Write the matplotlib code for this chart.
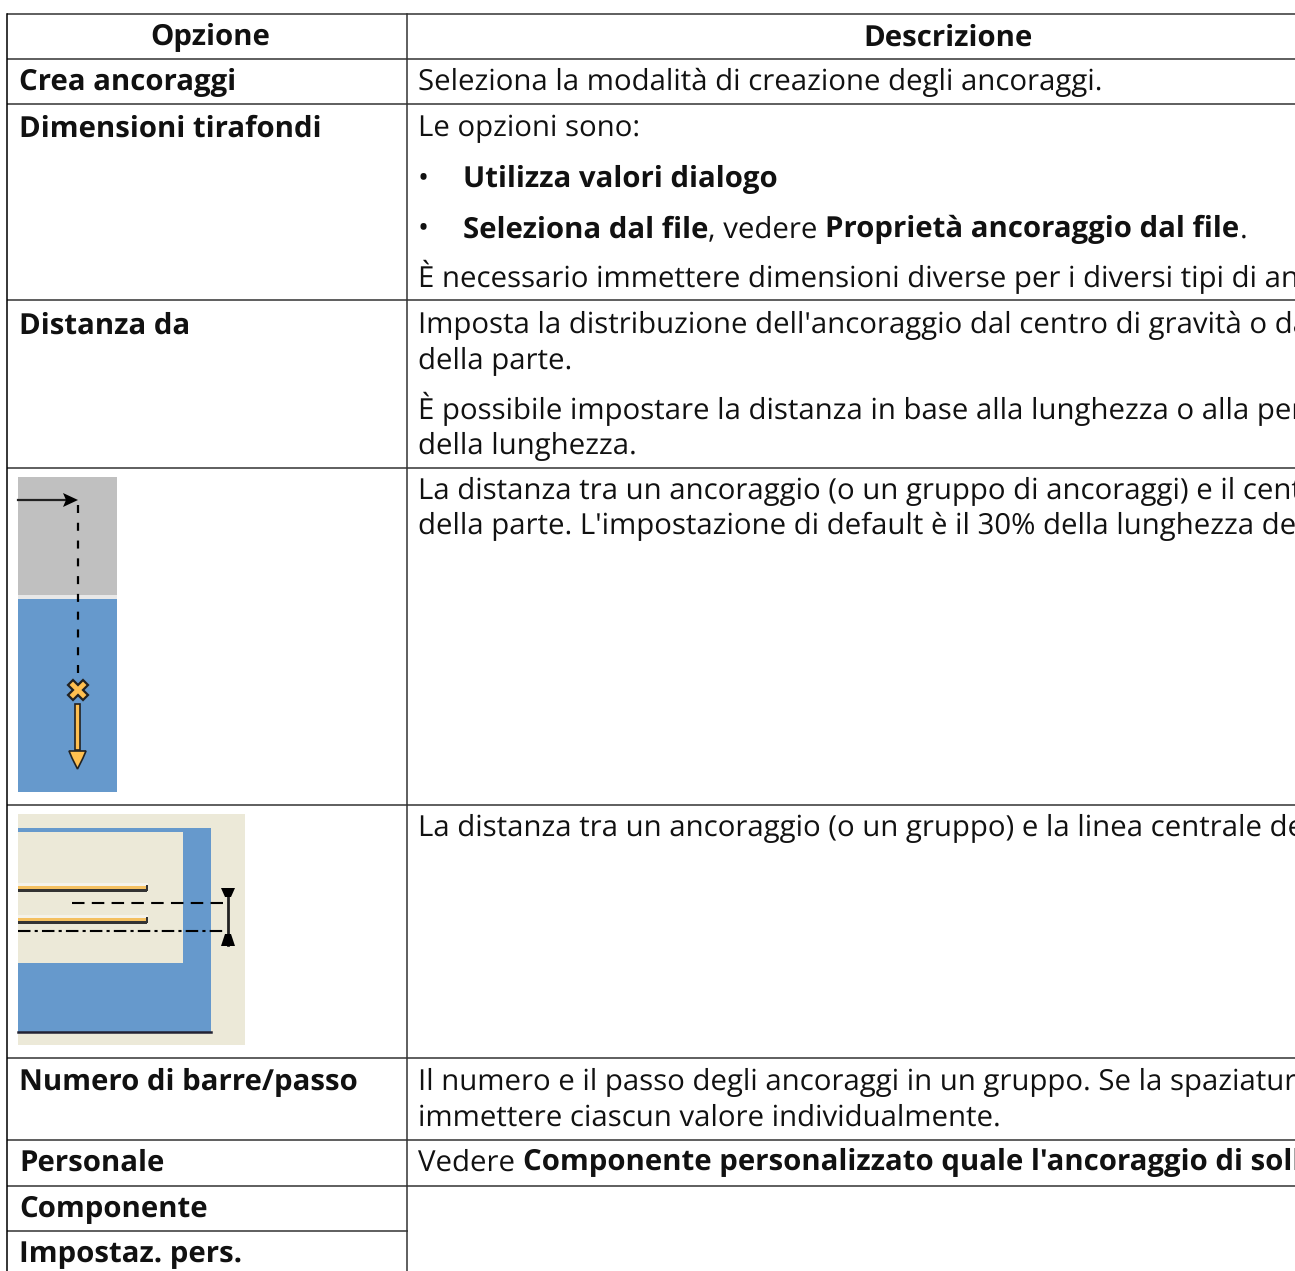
import matplotlib
matplotlib.use('Agg')
import matplotlib.pyplot as plt
from matplotlib.patches import Rectangle, Polygon

plt.rcParams['font.family'] = ['Open Sans', 'DejaVu Sans']
plt.rcParams['text.hinting'] = 'none'

W, H = 1295, 1271
FS = 21.15
LINE = '#333333'

# table structure (y of the horizontal rules, x of the vertical ones)
col_x = [7, 407]
row_y = [14, 59, 104, 300, 468, 805, 1058, 1140, 1186, 1231]
headers = ['Opzione', 'Descrizione']
left_labels = [
    ('Crea ancoraggi', 90.5),
    ('Dimensioni tirafondi', 136.5),
    ('Distanza da', 333.5),
    ('Numero di barre/passo', 1090.5),
    ('Personale', 1170.5),
    ('Componente', 1216.5),
    ('Impostaz. pers.', 1262.5),
]
# each line: x, baseline y, list of (text, bold); cut where the page cuts it
right_lines = [
    (418, 90.5, [('Seleziona la modalità di creazione degli ancoraggi.', False)]),
    (418, 136.5, [('Le opzioni sono:', False)]),
    (463, 187.5, [('Utilizza valori dialogo', True)]),
    (463, 237.5, [('Seleziona dal file', True), (', vedere ', False),
                  ('Proprietà ancoraggio dal file', True), ('.', False)]),
    (418, 287.5, [('È necessario immettere dimensioni diverse per i diversi tipi di an', False)]),
    (418, 333.5, [("Imposta la distribuzione dell'ancoraggio dal centro di gravità o da", False)]),
    (418, 368.5, [('della parte.', False)]),
    (418, 419.5, [('È possibile impostare la distanza in base alla lunghezza o alla per', False)]),
    (418, 454.5, [('della lunghezza.', False)]),
    (418, 499.5, [('La distanza tra un ancoraggio (o un gruppo di ancoraggi) e il cent', False)]),
    (418, 534.5, [("della parte. L'impostazione di default è il 30% della lunghezza de", False)]),
    (418, 836.5, [('La distanza tra un ancoraggio (o un gruppo) e la linea centrale de', False)]),
    (418, 1090.5, [('Il numero e il passo degli ancoraggi in un gruppo. Se la spaziatur', False)]),
    (418, 1125.5, [('immettere ciascun valore individualmente.', False)]),
    (418, 1170.5, [('Vedere ', False), ("Componente personalizzato quale l'ancoraggio di soll", True)]),
]
bullet_y = [187, 237]

BLUE = '#6699cc'
GREY = '#c0c0c0'
BEIGE = '#ece9d8'
ORANGE = '#ffc050'

fig = plt.figure(figsize=(W / 100, H / 100), dpi=100)
ax = fig.add_axes([0, 0, 1, 1])
ax.set_xlim(0, W)
ax.set_ylim(H, 0)
ax.axis('off')


def runs(x, y, parts):
    r = fig.canvas.get_renderer()
    for s, bold in parts:
        weight = 'bold' if bold else 'normal'
        ax.text(x, y, s, fontsize=FS, fontweight=weight, va='baseline', color='#111111', clip_on=True)
        # spaces at the ends are not measured, so use a sentinel width
        probe = ax.text(0, 0, s + '|', fontsize=FS, fontweight=weight)
        bar = ax.text(0, 0, '|', fontsize=FS, fontweight=weight)
        x += probe.get_window_extent(r).width - bar.get_window_extent(r).width
        probe.remove()
        bar.remove()


def rect(x0, y0, x1, y1, c):
    ax.add_patch(Rectangle((x0, y0), x1 - x0, y1 - y0, fc=c, ec='none', zorder=1))


# first picture
rect(18, 477, 117, 595, GREY)
rect(18, 595, 117, 599, '#e8e8e8')
rect(18, 599, 117, 792, BLUE)
ax.plot([18, 70], [500, 500], color='#222222', lw=1.6, zorder=2)
ax.add_patch(Polygon([[63, 493], [66, 500], [63, 507], [78, 500]], fc='black', ec='none', zorder=3))
ax.plot([77.5, 77.5], [505, 680], color='black', lw=1.6, dashes=(3.6, 4.4), zorder=2)
ax.plot([77.5], [690], marker='X', ms=15, mfc=ORANGE, mec='#222222', mew=1.6, zorder=3)
ax.add_patch(Rectangle((75, 704), 5, 46, fc=ORANGE, ec='#222222', lw=1.2, zorder=3))
ax.add_patch(Polygon([[69, 751], [86, 751], [83, 758], [77.5, 769], [72, 758]],
                     fc=ORANGE, ec='#222222', lw=1.2, zorder=4))

# second picture
rect(18, 814, 245, 1045, BEIGE)
rect(18, 828, 211, 1033, BLUE)
rect(18, 832, 183, 963, BEIGE)
ax.plot([18, 211], [1032, 1032], color='#222233', lw=1.8, zorder=2)
for yb in (883, 915):
    rect(18, yb, 148, yb + 3, '#f4f2ea')
    rect(18, yb + 3, 148, yb + 6, '#f4c060')
    rect(18, yb + 6, 147, yb + 9, '#333333')
    rect(146, yb + 2, 148, yb + 8, '#333333')
ax.plot([72, 223], [903, 903], color='black', lw=1.5, dashes=(6, 3.5), zorder=2)
ax.plot([18, 223], [931, 931], color='black', lw=1.5, dashes=(6, 2, 1.5, 2), zorder=2)
ax.plot([228, 228], [890, 945], color='#222222', lw=2, zorder=2)
ax.add_patch(Polygon([[221, 888], [235, 888], [231, 897], [225, 897]], fc='black', ec='none', zorder=3))
ax.add_patch(Polygon([[221, 946], [235, 946], [231, 934], [225, 934]], fc='black', ec='none', zorder=3))

# grid
for y in row_y:
    ax.plot([col_x[0], W], [y, y], color=LINE, lw=1.1, zorder=5, solid_capstyle='butt')
ax.plot([col_x[0]] * 2, [14, H], color='black', lw=1.1, zorder=5)
ax.plot([col_x[1]] * 2, [14, H], color=LINE, lw=1.1, zorder=5)
ax.add_patch(Rectangle((col_x[1] + 1, 1187), W, H, fc='white', ec='none', zorder=6))

ax.text(210, 45.5, headers[0], fontsize=FS, fontweight='bold', ha='center', va='baseline', color='#111111')
ax.text(948, 45.5, headers[1], fontsize=FS, fontweight='bold', ha='center', va='baseline', color='#111111')

for s, y in left_labels:
    ax.text(19, y, s, fontsize=FS, fontweight='bold', va='baseline', color='#111111')
for x, y, parts in right_lines:
    runs(x, y, parts)
for y in bullet_y:
    ax.text(423, y, '•', fontsize=FS, va='baseline', ha='center', color='#111111')

fig.savefig('out.png', dpi=100)
